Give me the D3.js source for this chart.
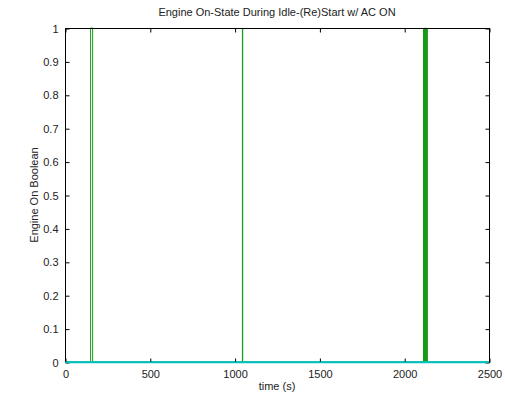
<!DOCTYPE html>
<meta charset="utf-8">
<title>Engine On-State</title>
<style>
body { margin: 0; background: #fff; }
svg { display: block; background: #fff; }
text { font-family: "Liberation Sans", Arial, sans-serif; font-size: 11px; fill: #222; }
.frame { fill: none; stroke: #000; stroke-width: 1px; }
.tick line { stroke: #000; }
</style>
<script src="https://cdnjs.cloudflare.com/ajax/libs/d3/7.8.5/d3.min.js"></script>
<body>
<script>

var width = 505, height = 398;
var margin = {top: 28, right: 16, bottom: 36, left: 65};

// engine on intervals (s): start / end of each "on" pulse
var onStart = [148, 1043, 2111, 2114, 2117, 2120, 2123, 2126, 2129, 2132];
var onEnd   = [160, 1045, 2112, 2115, 2118, 2121, 2124, 2127, 2130, 2133];

// second series: stays at zero over the whole run
var baseTime  = [0, 2500];
var baseValue = [0, 0];

var xTicks = [0, 500, 1000, 1500, 2000, 2500];
var yTicks = [0, 0.1, 0.2, 0.3, 0.4, 0.5, 0.6, 0.7, 0.8, 0.9, 1];

var x = d3.scaleLinear().domain([0, 2500]).range([margin.left, width - margin.right]);
var y = d3.scaleLinear().domain([0, 1]).range([height - margin.bottom, margin.top]);

var svg = d3.select("body").append("svg")
    .attr("width", width)
    .attr("height", height);

// build the step signal from the intervals
var onPts = [[0, 0]];
onStart.forEach(function(s, i) {
  onPts.push([s, 0], [s, 1], [onEnd[i], 1], [onEnd[i], 0]);
});
onPts.push([2500, 0]);

var line = d3.line()
    .x(function(d) { return x(d[0]) + 0.5; })
    .y(function(d) { return y(d[1]); });

svg.append("path")
    .datum(onPts)
    .attr("d", line)
    .attr("fill", "none")
    .attr("stroke", "#1a9a1a")
    .attr("stroke-width", 1);

svg.append("path")
    .datum(baseTime.map(function(t, i) { return [t, baseValue[i]]; }))
    .attr("d", line)
    .attr("fill", "none")
    .attr("stroke", "#00bfbf")
    .attr("stroke-width", 1.5);

// axes, matlab style: ticks inside on all four sides
var g = svg.append("g").attr("transform", "translate(0.5,0.5)");
var x0 = margin.left, x1 = width - margin.right;
var y0 = height - margin.bottom, y1 = margin.top;

g.append("g")
    .attr("transform", "translate(0," + y0 + ")")
    .call(d3.axisBottom(x).tickValues(xTicks).tickSize(-4).tickPadding(8).tickFormat(d3.format("d")))
    .call(function(a) { a.select(".domain").remove(); a.selectAll("text").attr("dy", "0.71em"); });

g.append("g")
    .attr("transform", "translate(0," + y1 + ")")
    .call(d3.axisTop(x).tickValues(xTicks).tickSize(-4).tickFormat(""))
    .call(function(a) { a.select(".domain").remove(); });

g.append("g")
    .attr("transform", "translate(" + x0 + ",0)")
    .call(d3.axisLeft(y).tickValues(yTicks).tickSize(-4).tickPadding(7).tickFormat(d3.format("")))
    .call(function(a) { a.select(".domain").remove(); });

g.append("g")
    .attr("transform", "translate(" + x1 + ",0)")
    .call(d3.axisRight(y).tickValues(yTicks).tickSize(-4).tickFormat(""))
    .call(function(a) { a.select(".domain").remove(); });

g.selectAll(".tick text")
    .style("font-family", "Liberation Sans, Arial, sans-serif")
    .style("font-size", "11px")
    .attr("fill", "#222");

g.append("rect")
    .attr("class", "frame")
    .attr("x", x0).attr("y", y1)
    .attr("width", x1 - x0).attr("height", y0 - y1);

// cyan series drawn over the bottom edge
svg.append("path")
    .datum(baseTime.map(function(t, i) { return [t, baseValue[i]]; }))
    .attr("d", d3.line().x(function(d) { return x(d[0]); }).y(function(d) { return y(d[1]) + 0.5; }))
    .attr("fill", "none")
    .attr("stroke", "#00bfbf")
    .attr("stroke-width", 1.5);

svg.append("text")
    .attr("x", (x0 + x1) / 2)
    .attr("y", 16)
    .attr("text-anchor", "middle")
    .text("Engine On-State During Idle-(Re)Start w/ AC ON");

svg.append("text")
    .attr("x", (x0 + x1) / 2)
    .attr("y", 390)
    .attr("text-anchor", "middle")
    .text("time (s)");

svg.append("text")
    .attr("transform", "translate(38," + ((y0 + y1) / 2) + ") rotate(-90)")
    .attr("text-anchor", "middle")
    .text("Engine On Boolean");

</script>
